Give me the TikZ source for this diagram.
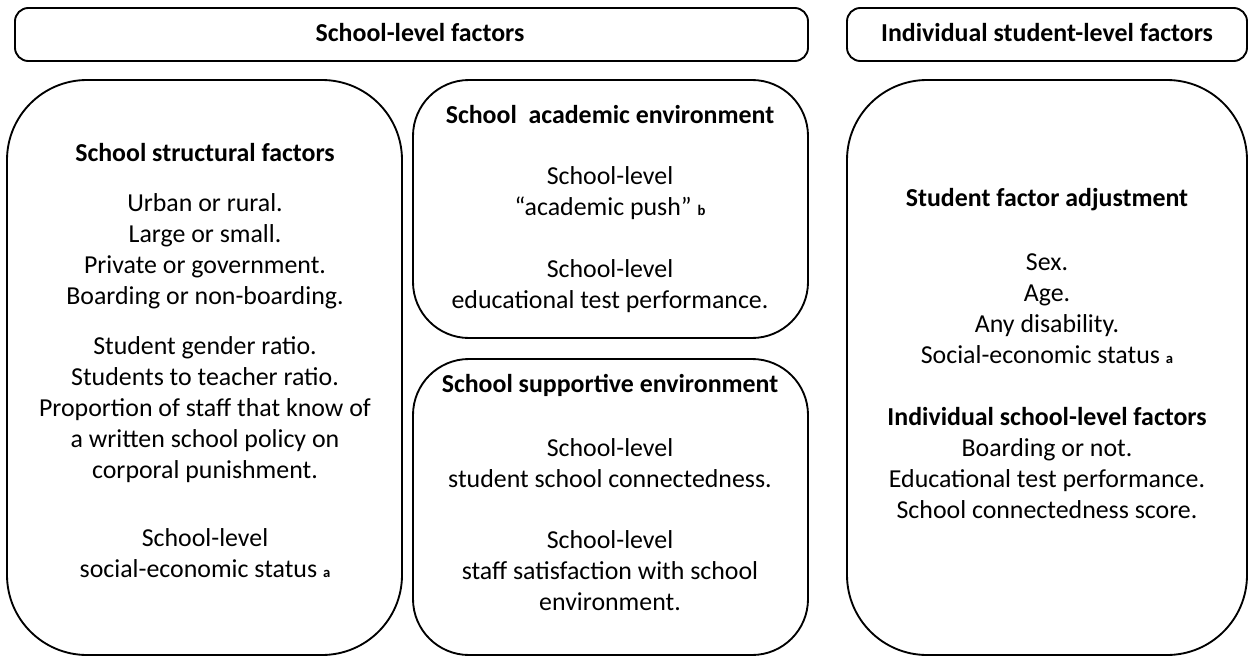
\documentclass[tikz,border=0pt]{standalone}
\usepackage{fontspec}
\setmainfont{Carlito}
\tikzset{every picture/.style={line width=0.75pt}}
\tikzset{
  panel/.style={line width=1.4pt, rounded corners=#1},
  txt/.style={align=center, inner sep=0pt, font=\fontsize{19.4}{23.25}\selectfont},
  head/.style={txt, font=\fontsize{19.4}{23.25}\selectfont\bfseries},
}
\newcommand{\fn}[1]{\ {\fontsize{11}{11}\selectfont\bfseries #1}}

\begin{document}
\begin{tikzpicture}[x=0.75pt,y=0.75pt,yscale=-1,xscale=1]
	\useasboundingbox (0,0) rectangle (1249,657);

	%Rounded Rect: headers
	\draw [panel=10]  (15,8) rectangle (808,61) ;
	\draw [panel=10]  (847,8) rectangle (1247,61) ;
	%Rounded Rect: panels
	\draw [panel=60]  (7,80) rectangle (402,655) ;
	\draw [panel=42]  (413,80) rectangle (808,338) ;
	\draw [panel=42]  (413,359) rectangle (808,655) ;
	\draw [panel=60]  (847,80) rectangle (1247,655) ;

	% Text Node
	\draw (420,33) node [head] (hschool) {School-level factors};
	% Text Node
	\draw (1047,33) node [head] (hstudent) {Individual student-level factors};

	% Text Node
	\draw (205,153) node [head] (tstruct) {School structural factors};
	% Text Node
	\draw (205,251) node [txt] (struct1) {Urban or rural.\\Large or small.\\Private or government.\\Boarding or non-boarding.};
	% Text Node
	\draw (205,410) node [txt] (struct2) {Student gender ratio.\\Students to teacher ratio.\\Proportion of staff that know of\\a written school policy on\\corporal punishment.};
	% Text Node
	\draw (205,553) node [txt] (struct3) {School-level\\social-economic status\fn{a}};

	% Text Node
	\draw (610,115) node [head] (tacad) {School\ \ academic environment};
	% Text Node
	\draw (610,193) node [txt] (acad1) {School-level\\``academic push''\fn{b}};
	% Text Node
	\draw (610,286.5) node [txt] (acad2) {School-level\\educational test performance.};

	% Text Node
	\draw (610,385) node [head] (tsupp) {School supportive environment};
	% Text Node
	\draw (610,463) node [txt] (supp1) {School-level\\student school connectedness.};
	% Text Node
	\draw (610,571) node [txt] (supp2) {School-level\\staff satisfaction with school\\environment.};

	% Text Node
	\draw (1047,200) node [head] (tadjust) {Student factor adjustment};
	% Text Node
	\draw (1047,308.5) node [txt] (adjust1) {Sex.\\Age.\\Any disability.\\Social-economic status\fn{a}};
	% Text Node
	\draw (1047,463.5) node [txt] (adjust2) {\textbf{Individual school-level factors}\\Boarding or not.\\Educational test performance.\\School connectedness score.};

\end{tikzpicture}
\end{document}
